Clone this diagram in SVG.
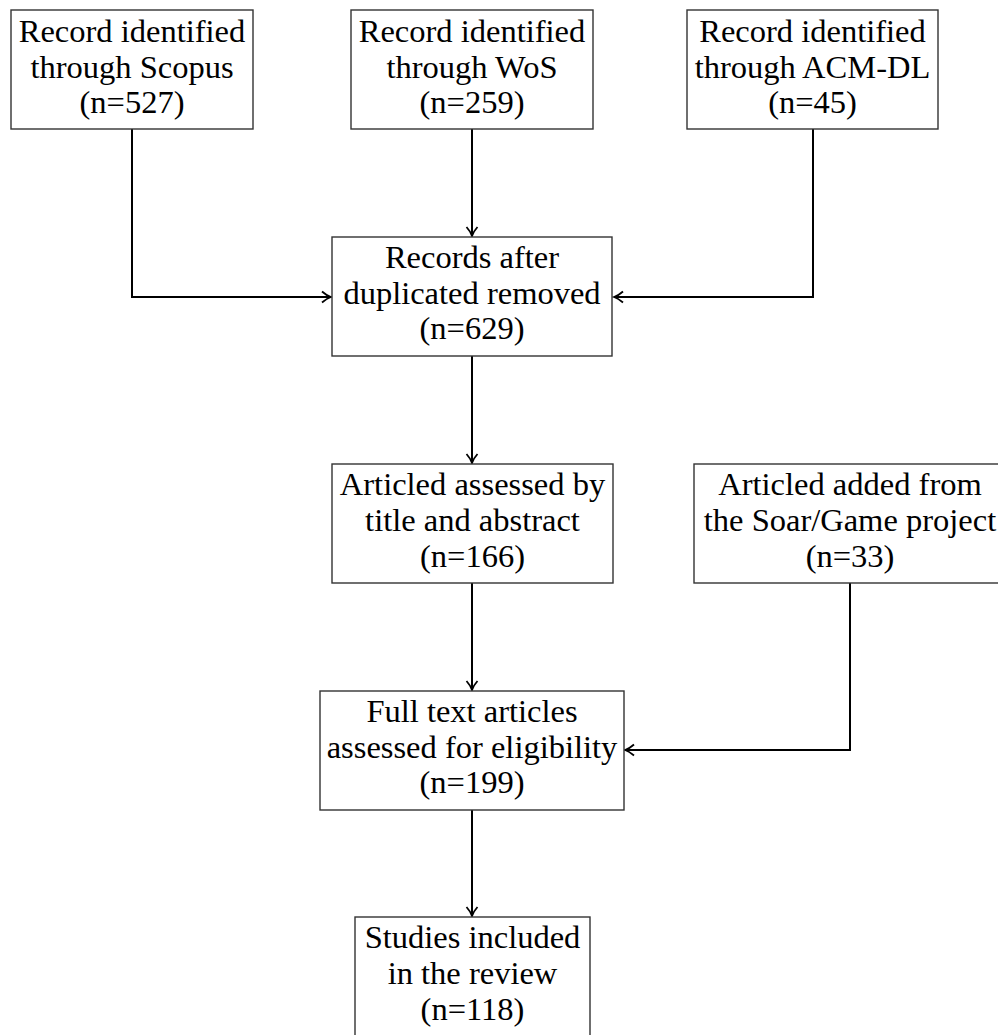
<svg xmlns="http://www.w3.org/2000/svg" width="998" height="1035" viewBox="0 0 998 1035">
<style>
.box{fill:#fff;stroke:#333;stroke-width:1.4}
.t{font-family:"Liberation Serif","Times New Roman",serif;font-size:32.5px;fill:#000;text-anchor:middle}
.c{fill:none;stroke:#000;stroke-width:2}
</style>
<defs>
<marker id="arr" markerUnits="userSpaceOnUse" viewBox="-11 -7 13 14" markerWidth="13" markerHeight="14" refX="0" refY="0" orient="auto">
<path d="M-9,-5.5 C-5.5,-2.4 -2,-0.6 0,0 C-2,0.6 -5.5,2.4 -9,5.5" fill="none" stroke="#000" stroke-width="1.8"/>
</marker>
</defs>
<rect width="998" height="1035" fill="#fff"/>
<g id="connectors">
<path class="c" d="M132,129 V297 H331" marker-end="url(#arr)"/>
<path class="c" d="M472,129 V236" marker-end="url(#arr)"/>
<path class="c" d="M813,129 V297 H614" marker-end="url(#arr)"/>
<path class="c" d="M472,356 V463" marker-end="url(#arr)"/>
<path class="c" d="M472,583 V690" marker-end="url(#arr)"/>
<path class="c" d="M850,583 V750 H625" marker-end="url(#arr)"/>
<path class="c" d="M472,810 V916" marker-end="url(#arr)"/>
</g>
<g id="scopus">
<rect class="box" x="11" y="10" width="242" height="119"/>
<text class="t" x="132" y="42">Record identified</text>
<text class="t" x="132" y="77.5">through Scopus</text>
<text class="t" x="132" y="113">(n=527)</text>
</g>
<g id="wos">
<rect class="box" x="351" y="10" width="242" height="119"/>
<text class="t" x="472" y="42">Record identified</text>
<text class="t" x="472" y="77.5">through WoS</text>
<text class="t" x="472" y="113">(n=259)</text>
</g>
<g id="acm">
<rect class="box" x="687" y="10" width="251" height="119"/>
<text class="t" x="812.5" y="42">Record identified</text>
<text class="t" x="812.5" y="77.5">through ACM-DL</text>
<text class="t" x="812.5" y="113">(n=45)</text>
</g>
<g id="records">
<rect class="box" x="332" y="237" width="280" height="119"/>
<text class="t" x="472" y="268">Records after</text>
<text class="t" x="472" y="303.5">duplicated removed</text>
<text class="t" x="472" y="339">(n=629)</text>
</g>
<g id="assessed">
<rect class="box" x="332" y="464" width="281" height="119"/>
<text class="t" x="472.5" y="495">Articled assessed by</text>
<text class="t" x="472.5" y="531">title and abstract</text>
<text class="t" x="472.5" y="567">(n=166)</text>
</g>
<g id="added">
<rect class="box" x="694" y="464" width="312" height="119"/>
<text class="t" x="850" y="495">Articled added from</text>
<text class="t" x="850" y="531">the Soar/Game project</text>
<text class="t" x="850" y="567">(n=33)</text>
</g>
<g id="fulltext">
<rect class="box" x="320" y="691" width="304" height="119"/>
<text class="t" x="472" y="722">Full text articles</text>
<text class="t" x="472" y="758">assessed for eligibility</text>
<text class="t" x="472" y="793">(n=199)</text>
</g>
<g id="studies">
<rect class="box" x="355" y="917" width="235" height="140"/>
<text class="t" x="472.5" y="948">Studies included</text>
<text class="t" x="472.5" y="984">in the review</text>
<text class="t" x="472.5" y="1020">(n=118)</text>
</g>
</svg>
